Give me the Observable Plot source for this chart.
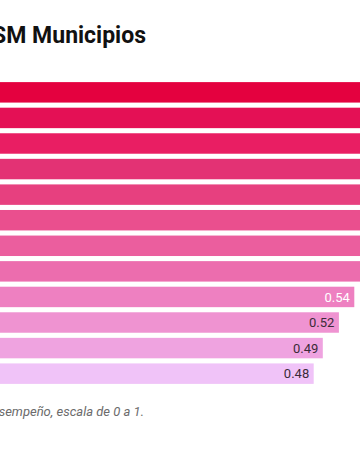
<!DOCTYPE html>
<html>
<head>
<meta charset="utf-8">
<script src="https://cdn.jsdelivr.net/npm/d3@7"></script>
<script src="https://cdn.jsdelivr.net/npm/@observablehq/plot@0.6"></script>
<style>
  html, body { margin: 0; padding: 0; width: 360px; height: 474px; overflow: hidden; background: #fff; }
  body { position: relative; font-family: Roboto, "Noto Sans", sans-serif; }
  #title { position: absolute; top: 24.1px; right: 214px; white-space: nowrap; font-size: 23px; line-height: 23px; font-weight: 700; color: #111; }
  #chart { position: absolute; top: 76.6px; left: -23px; width: 700px; height: 312px; }
  #chart svg { max-width: none !important; display: block; }
  #caption { position: absolute; top: 404.8px; right: 216px; white-space: nowrap; font-size: 13px; line-height: 13px; font-style: italic; color: #6b6b6b; }
</style>
</head>
<body>
<div id="title">Ranking ISM Municipios</div>
<div id="chart"></div>
<div id="caption">Índice de desempeño, escala de 0 a 1.</div>
<script>
const rankings = ["1", "2", "3", "4", "5", "6", "7", "8", "9", "10", "11", "12"];
const values = [0.86, 0.80, 0.75, 0.71, 0.68, 0.65, 0.62, 0.59, 0.539, 0.517, 0.494, 0.481];
const labels = ["0.86", "0.80", "0.75", "0.71", "0.68", "0.65", "0.62", "0.59", "0.54", "0.52", "0.49", "0.48"];
const barColors = ["#E4013F", "#E41055", "#E91E63", "#E33274", "#E7407F", "#EA4F8E", "#EB5E9E", "#EC6DAE", "#EE80C1", "#EF93D1", "#EFA3E0", "#F0C3F8"];

const data = rankings.map((r, i) => ({ rank: r, value: values[i], label: labels[i] }));

const chart = Plot.plot({
  width: 700,
  height: 312,
  marginTop: 0, marginBottom: 0, marginLeft: 0, marginRight: 0,
  x: { domain: [0, 1], axis: null },
  y: { domain: rankings, paddingInner: 0.2, paddingOuter: 0.2, round: false, axis: null },
  color: { domain: rankings, range: barColors },
  style: { fontFamily: "Roboto, sans-serif", background: "transparent", maxWidth: "none" },
  marks: [
    Plot.barX(data, { y: "rank", x: "value", fill: "rank", insetTop: 0, insetBottom: 0 }),
    Plot.text(data, {
      y: "rank", x: "value", text: "label",
      textAnchor: "end", dx: -5, fontSize: 13,
      fill: d => d.value > 0.53 ? "#ffffff" : "#3b2b38"
    })
  ]
});
document.getElementById("chart").appendChild(chart);
</script>
</body>
</html>
